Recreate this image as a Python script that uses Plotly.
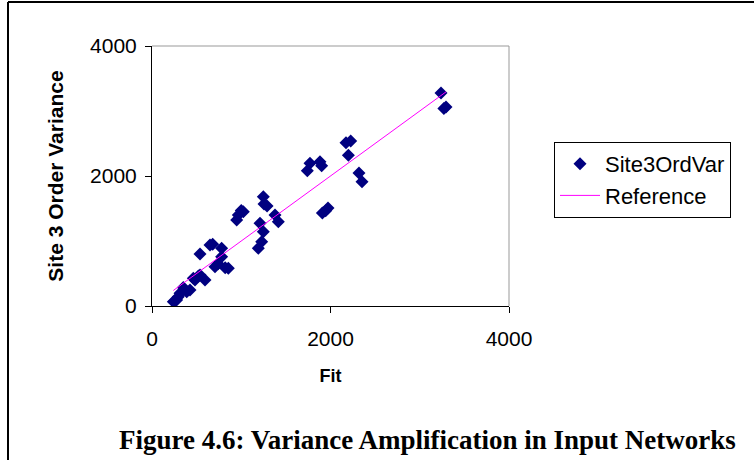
import plotly.graph_objects as go

# Data
fit = [239, 258, 276, 295, 314, 351, 389, 426, 463, 482, 538, 520, 594, 538, 650, 680,
       780, 780, 706, 740, 855, 820, 949, 967, 1023, 1000, 1191, 1229, 1210, 1247,
       1247, 1255, 1289, 1378, 1415, 1740, 1770, 1882, 1901, 1909, 1946, 1972,
       2174, 2226, 2200, 2319, 2353, 3238, 3294, 3270]
site3_var = [66, 82, 92, 143, 195, 285, 220, 246, 426, 400, 477, 460, 400, 800, 938, 950,
             888, 758, 605, 650, 580, 590, 1323, 1400, 1451, 1470, 888, 989, 1272, 1143,
             1682, 1569, 1538, 1400, 1297, 2082, 2195, 2220, 2158, 1431, 1466, 1508,
             2512, 2538, 2318, 2046, 1912, 3277, 3062, 3040]
ref_x = sorted(fit)
ref_y = ref_x  # reference line y = fit

x_ticks = [0, 2000, 4000]
y_ticks = [0, 2000, 4000]

FONT = "Liberation Sans"

fig = go.Figure()
fig.add_trace(go.Scatter(x=fit, y=site3_var, mode="markers", name="Site3OrdVar",
                         marker=dict(symbol="diamond", size=10, color="#000080")))
fig.add_trace(go.Scatter(x=ref_x, y=ref_y, mode="lines", name="Reference",
                         line=dict(color="#FF00FF", width=1)))

L, R, T, B = 152, 509, 46, 306
W, H = 754, 460
pw, ph = R - L, B - T

def px(xp):
    return (xp - L) / pw

def py(yp):
    return (B - yp) / ph

fig.update_layout(
    width=W, height=H,
    margin=dict(l=L, r=W - R, t=T, b=H - B),
    paper_bgcolor="white", plot_bgcolor="white",
    font=dict(family=FONT, size=21, color="black"),
    showlegend=True,
    legend=dict(x=px(554), y=py(142), xanchor="left", yanchor="top",
                bordercolor="black", borderwidth=1, bgcolor="white",
                font=dict(family=FONT, size=22), itemwidth=40,
                tracegroupgap=0),
    xaxis=dict(range=[0, 4000], tickvals=x_ticks, ticktext=[str(v) for v in x_ticks],
               showgrid=False, zeroline=False, showline=True, linecolor="black", linewidth=1,
               ticks="outside", ticklen=6, tickcolor="black", ticklabelstandoff=8,
               tickfont=dict(family=FONT, size=21),
               title=dict(text="<b>Fit</b>", font=dict(family=FONT, size=18), standoff=20)),
    yaxis=dict(range=[0, 4000], tickvals=y_ticks, ticktext=[str(v) for v in y_ticks],
               showgrid=False, zeroline=False, showline=True, linecolor="black", linewidth=1,
               ticks="outside", ticklen=6, tickcolor="black", ticklabelstandoff=4,
               tickfont=dict(family=FONT, size=21),
               title=dict(text="<b>Site 3 Order Variance</b>", font=dict(family=FONT, size=21),
                          standoff=20)),
)

# gray plot-area border top and right
fig.add_shape(type="line", xref="paper", yref="paper", x0=0, x1=1, y0=1, y1=1,
              line=dict(color="#999999", width=1))
fig.add_shape(type="line", xref="paper", yref="paper", x0=1, x1=1, y0=0, y1=1,
              line=dict(color="#999999", width=1))
# outer frame (left and top)
fig.add_shape(type="line", xref="paper", yref="paper", x0=px(8), x1=px(8), y0=py(2), y1=py(462),
              line=dict(color="black", width=2))
fig.add_shape(type="line", xref="paper", yref="paper", x0=px(8), x1=px(760), y0=py(2), y1=py(2),
              line=dict(color="black", width=2))

fig.add_annotation(text="<b>Figure 4.6: Variance Amplification in Input Networks</b>",
                   xref="paper", yref="paper", x=px(427), y=py(440),
                   xanchor="center", yanchor="middle", showarrow=False,
                   font=dict(family="Liberation Serif", size=27, color="black"))

fig.write_html("out.html")
